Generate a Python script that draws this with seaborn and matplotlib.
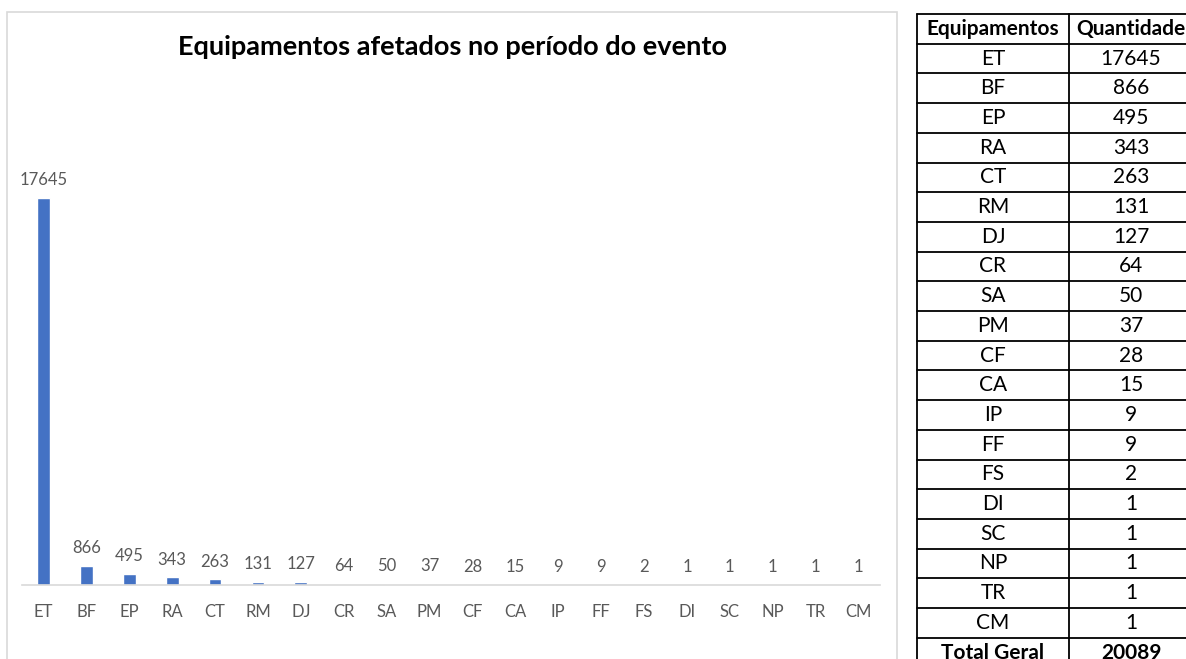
import numpy as np
import pandas as pd
import matplotlib.pyplot as plt
import seaborn as sns

# Dados do gráfico / tabela
equipamentos = ['ET', 'BF', 'EP', 'RA', 'CT', 'RM', 'DJ', 'CR', 'SA', 'PM',
                'CF', 'CA', 'IP', 'FF', 'FS', 'DI', 'SC', 'NP', 'TR', 'CM']
quantidade = [17645, 866, 495, 343, 263, 131, 127, 64, 50, 37,
              28, 15, 9, 9, 2, 1, 1, 1, 1, 1]
titulo = 'Equipamentos afetados no período do evento'
cabecalho = ['Equipamentos', 'Quantidade']
total_label = 'Total Geral'
total_valor = 20089

df = pd.DataFrame({'Equipamentos': equipamentos, 'Quantidade': quantidade})

sns.set_theme(style='white')
plt.rcParams['font.family'] = ['Lato', 'DejaVu Sans']

W, H = 1186, 659
fig = plt.figure(figsize=(W / 100, H / 100), dpi=100)

# moldura do gráfico (estilo Excel)
frame = plt.Rectangle((7 / W, 1 - 660 / H), 890 / W, 648 / H, transform=fig.transFigure,
                      fill=False, edgecolor='#d9d9d9', lw=1.2)
fig.patches.append(frame)

fig.text(452 / W, 1 - 47 / H, titulo, ha='center', va='center',
         fontsize=19.5, fontweight='bold', color='black')

# 1. Gráfico de barras
ax = fig.add_axes([22 / W, 1 - 585 / H, 858 / W, 439 / H])
sns.barplot(data=df, x='Equipamentos', y='Quantidade', color='#4472C4',
            width=0.3, saturation=1, ax=ax)
ax.bar_label(ax.containers[0], padding=7, color='#595959', fontsize=12)
ax.set_xlim(-0.5, len(equipamentos) - 0.5)
ax.set_ylim(0, 20000)
ax.set_xlabel('')
ax.set_ylabel('')
ax.set_yticks([])
for s in ['left', 'top', 'right']:
    ax.spines[s].set_visible(False)
ax.spines['bottom'].set_color('#d9d9d9')
ax.spines['bottom'].set_linewidth(1.2)
ax.tick_params(axis='x', which='major', length=0, pad=14, labelsize=12, labelcolor='#595959')
ax.set_xticks(np.arange(-0.5, len(equipamentos)), minor=True)
ax.tick_params(axis='x', which='minor', length=5, width=1.2, color='#d9d9d9', direction='out')
ax.patch.set_alpha(0)

# 2. Tabela à direita
tab = fig.add_axes([0, 0, 1, 1])
tab.set_xlim(0, W)
tab.set_ylim(H, 0)
tab.axis('off')
tab.patch.set_alpha(0)

x0, xm, x1 = 917, 1069, 1195
y0, rh = 14, 29.7
linhas = [cabecalho] + [[e, str(q)] for e, q in zip(equipamentos, quantidade)] + \
         [[total_label, str(total_valor)]]
n = len(linhas)
for i, (a, b) in enumerate(linhas):
    yc = y0 + (i + 0.5) * rh
    bold = i == 0 or i == n - 1
    fw = 'bold' if bold else 'normal'
    tab.text((x0 + xm) / 2, yc, a, ha='center', va='center', fontsize=15,
             fontweight=fw, color='black')
    tab.text(1131, yc, b, ha='center', va='center', fontsize=15,
             fontweight=fw, color='black')
for i in range(n + 1):
    tab.plot([x0, x1], [y0 + i * rh] * 2, color='black', lw=1.3)
for xv in [x0, xm]:
    tab.plot([xv, xv], [y0, y0 + n * rh], color='black', lw=1.3)

fig.savefig('out.png', dpi=100)
